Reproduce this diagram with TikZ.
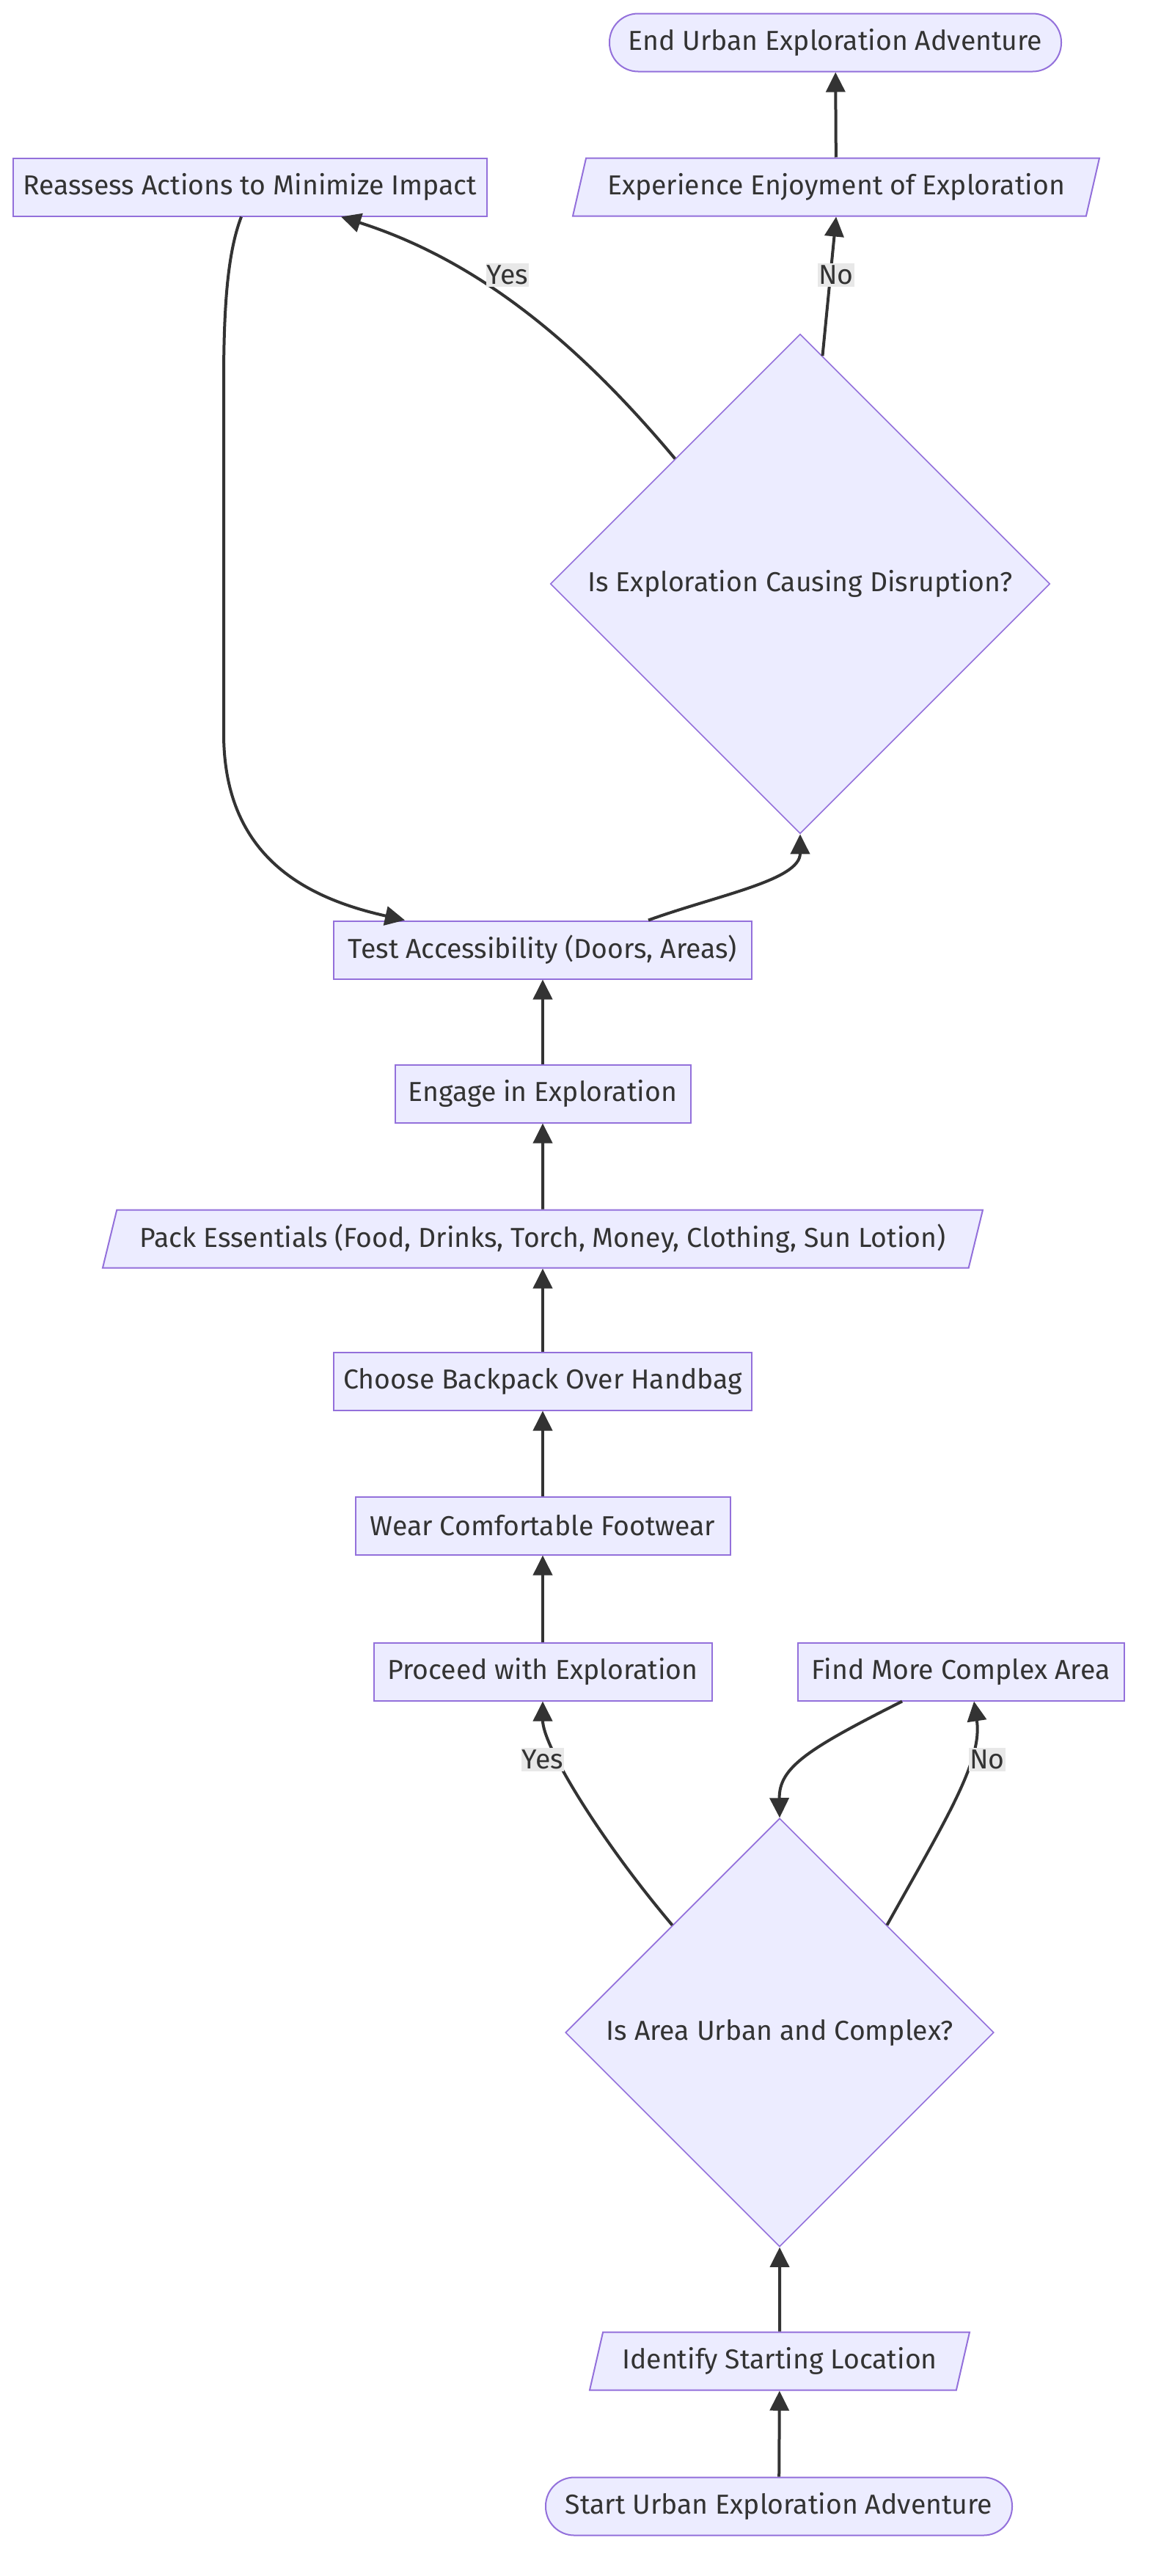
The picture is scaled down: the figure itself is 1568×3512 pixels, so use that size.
\documentclass[tikz,border=0pt]{standalone}
\usepackage{fontspec}
\setmainfont{Fira Sans}
\usepackage{tikz}
\usetikzlibrary{shapes.geometric, arrows.meta}

\definecolor{nodefill}{HTML}{ECECFF}
\definecolor{nodeline}{HTML}{9370DB}
\definecolor{edgeline}{HTML}{333333}
\definecolor{lblfill}{HTML}{E8E8E8}

\begin{document}
\begin{tikzpicture}[x=0.5pt, y=-0.5pt, >={Triangle[length=13.5pt,width=13pt]}]
	\tikzstyle{every node}=[font=\fontsize{18.7}{22}\selectfont, text=edgeline]
	\tikzstyle{box}=[rectangle, draw=nodeline, fill=nodefill, line width=1pt, minimum height=39.5pt, inner sep=0pt]
	\tikzstyle{term}=[box, rounded corners=19.5pt]
	\tikzstyle{io}=[trapezium, trapezium left angle=64, trapezium right angle=116, trapezium stretches body, draw=nodeline, fill=nodefill, line width=1pt, minimum height=39.5pt, inner sep=0pt]
	\tikzstyle{decision}=[diamond, draw=nodeline, fill=nodefill, line width=0.8pt, inner sep=0pt]
	\tikzstyle{flow}=[->, draw=edgeline, line width=2pt]
	\tikzstyle{lbl}=[fill=lblfill, inner xsep=0.5pt, inner ysep=1.5pt]
	
	\fill[white] (0,0) rectangle (1568,3512);
	\useasboundingbox (0,0) rectangle (1568,3512);
	
	% Top part: disruption check
	\node[term, minimum width=308pt] (finish) at (1139,58) {End Urban Exploration Adventure};
	\node[box, minimum width=323pt] (reassess) at (341,255) {Reassess Actions to Minimize Impact};
	\node[io, minimum width=359pt] (enjoy) at (1140,255) {Experience Enjoyment of Exploration};
	\node[decision, minimum size=340.5pt] (disrupt) at (1091,796) {Is Exploration Causing Disruption?};
	
	% Middle chain
	\node[box, minimum width=285pt] (access) at (740,1295) {Test Accessibility (Doors, Areas)};
	\node[box, minimum width=201.5pt] (engage) at (740,1491) {Engage in Exploration};
	\node[io, minimum width=600pt] (pack) at (740,1689) {Pack Essentials (Food, Drinks, Torch, Money, Clothing, Sun Lotion)};
	\node[box, minimum width=285pt] (backpack) at (740,1883) {Choose Backpack Over Handbag};
	\node[box, minimum width=255.5pt] (footwear) at (740,2080) {Wear Comfortable Footwear};
	
	% Bottom part: area check
	\node[box, minimum width=230.5pt] (proceed) at (740,2279) {Proceed with Exploration};
	\node[box, minimum width=222.5pt] (findarea) at (1310,2279) {Find More Complex Area};
	\node[decision, minimum size=292pt] (urban) at (1063,2771) {Is Area Urban and Complex?};
	\node[io, minimum width=259pt] (location) at (1063,3219) {Identify Starting Location};
	\node[term, minimum width=318pt] (begin) at (1062,3417) {Start Urban Exploration Adventure};
	
	% Connectors
	\draw[flow] (begin) -- (location);
	\draw[flow] (location) -- (urban);
	\draw[flow] (urban.north west) .. controls (818,2508) and (740,2380) .. (proceed.south) node[lbl] at (740,2399) {Yes};
	\draw[flow] (urban.north east) .. controls (1290,2480) and (1340,2400) .. ([xshift=9pt]findarea.south) node[lbl] at (1346,2399) {No};
	\draw[flow] ([xshift=-40pt]findarea.south) .. controls (1100,2385) and (1062,2410) .. (urban.north);
	
	\foreach \a/\b in {proceed/footwear, footwear/backpack, backpack/pack, pack/engage, engage/access}
		\draw[flow] (\a) -- (\b);
	
	\draw[flow] ([xshift=72pt]access.north) .. controls (980,1220) and (1091,1200) .. (disrupt.south);
	\draw[flow] (disrupt.north west) .. controls (792,472) and (655,356) .. ([xshift=62pt]reassess.south) node[lbl] at (692,375) {Yes};
	\draw[flow] (disrupt) -- (enjoy.south) node[lbl] at (1140,375) {No};
	\draw[flow] (enjoy) -- (finish);
	\draw[flow] ([xshift=-6pt]reassess.south) .. controls (310,345) and (305,420) .. (305,520) -- (305,1000) .. controls (305,1170) and (420,1225) .. ([xshift=-94pt]access.north);
	
\end{tikzpicture}
\end{document}
